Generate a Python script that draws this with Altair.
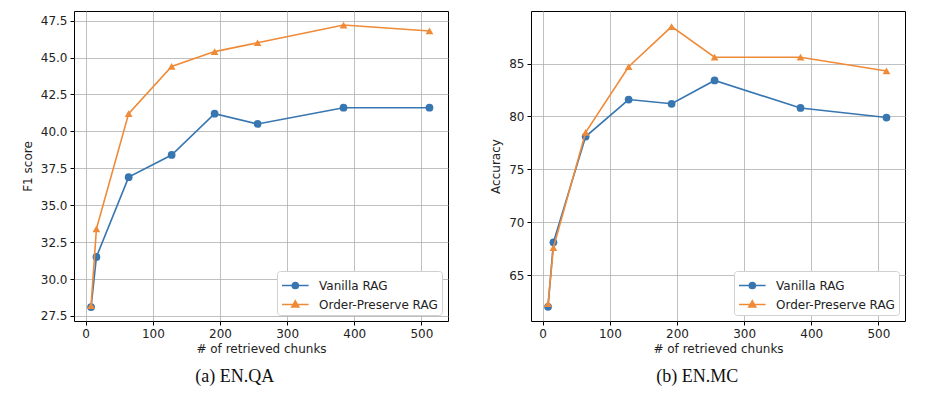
import altair as alt
import pandas as pd

chunks = [8, 16, 64, 128, 192, 256, 384, 512]
series_names = ["Vanilla RAG", "Order-Preserve RAG"]
qa_vanilla = [28.1, 31.5, 36.9, 38.4, 41.2, 40.5, 41.6, 41.6]
qa_order = [28.2, 33.4, 41.2, 44.4, 45.4, 46.0, 47.2, 46.8]
mc_vanilla = [62.0, 68.1, 78.1, 81.6, 81.2, 83.4, 80.8, 79.9]
mc_order = [62.3, 67.6, 78.5, 84.7, 88.5, 85.6, 85.6, 84.3]
x_ticks = [0, 100, 200, 300, 400, 500]
qa_ticks = [27.5, 30.0, 32.5, 35.0, 37.5, 40.0, 42.5, 45.0, 47.5]
mc_ticks = [65, 70, 75, 80, 85]

BLUE = "#3776b0"
ORANGE = "#ef8a38"
FONT = "DejaVu Sans"

CIRCLE_PATH = "M-1,0H1.8M0.08,0A0.32,0.32,0,1,0,0.72,0A0.32,0.32,0,1,0,0.08,0Z"
TRI_PATH = "M-1,0H1.8M0.4,-0.38L0.76,0.25L0.04,0.25Z"


def make_df(v, o):
    rows = []
    for name, vals in zip(series_names, [v, o]):
        for c, val in zip(chunks, vals):
            rows.append({"chunks": c, "value": val, "series": name})
    return pd.DataFrame(rows)


def panel(df, ytitle, ydomain, yticks, caption, yfmt):
    x = alt.X("chunks:Q", title="# of retrieved chunks",
              scale=alt.Scale(domain=[-17.4, 539.6], nice=False, zero=False),
              axis=alt.Axis(values=x_ticks, format="d"))
    y = alt.Y("value:Q", title=ytitle,
              scale=alt.Scale(domain=ydomain, nice=False, zero=False),
              axis=alt.Axis(values=yticks, format=yfmt))
    cscale = alt.Scale(domain=series_names, range=[BLUE, ORANGE])
    base = alt.Chart(df)
    layers = []
    for name, col, shp in zip(series_names, [BLUE, ORANGE], ["circle", "triangle-up"]):
        sub = base.transform_filter(alt.datum.series == name)
        layers.append(sub.mark_line(strokeWidth=1.6, color=col).encode(x=x, y=y))
        layers.append(sub.mark_point(filled=True, size=60, opacity=1, shape=shp,
                                     color=col).encode(x=x, y=y))
    legend = alt.Legend(
        title=None, orient="bottom-right", offset=6,
        labelFont=FONT, labelFontSize=12, labelColor="#222",
        symbolSize=361, labelOffset=17, rowPadding=2,
        strokeColor="#d0d0d0", fillColor="#ffffff", cornerRadius=3,
        padding=4, symbolStrokeWidth=1.6, symbolOpacity=1,
    )
    leg_layer = base.mark_point(filled=True, size=0, strokeWidth=1.6).encode(
        x=x, y=y,
        color=alt.Color("series:N", scale=cscale, legend=legend),
        stroke=alt.Stroke("series:N", scale=cscale, legend=legend),
        shape=alt.Shape("series:N",
                        scale=alt.Scale(domain=series_names,
                                        range=[CIRCLE_PATH, TRI_PATH]),
                        legend=legend),
    )
    layers.append(leg_layer)
    return alt.layer(*layers).properties(
        width=374, height=310,
        title=alt.TitleParams(caption, orient="bottom", anchor="middle",
                              frame="bounds", font="Liberation Serif",
                              fontSize=18, fontWeight="normal", color="#111",
                              offset=14),
    )


left = panel(make_df(qa_vanilla, qa_order), "F1 score", [27.16, 48.15],
             qa_ticks, "(a) EN.QA", ".1f")
right = panel(make_df(mc_vanilla, mc_order), "Accuracy", [60.66, 89.97],
              mc_ticks, "(b) EN.MC", "d")

chart = alt.hconcat(left, right, spacing=40).resolve_scale(
    x="independent", y="independent", color="independent",
    stroke="independent", shape="independent"
).resolve_legend(
    color="independent", stroke="independent", shape="independent"
).properties(
    padding={"left": 12, "top": 2, "right": 5, "bottom": 5}
).configure_view(
    stroke="#000", strokeWidth=1
).configure_axis(
    grid=True, gridColor="#b0b0b0", gridWidth=0.8,
    domain=False, tickColor="#000", tickSize=4, tickWidth=1,
    labelFont=FONT, labelFontSize=12, labelColor="#222", labelPadding=3,
    titleFont=FONT, titleFontSize=12, titleColor="#222", titleFontWeight="normal",
    titlePadding=4,
).configure_axisY(titlePadding=6)

chart.save("out.html", embed_options={"renderer": "svg", "actions": False})
